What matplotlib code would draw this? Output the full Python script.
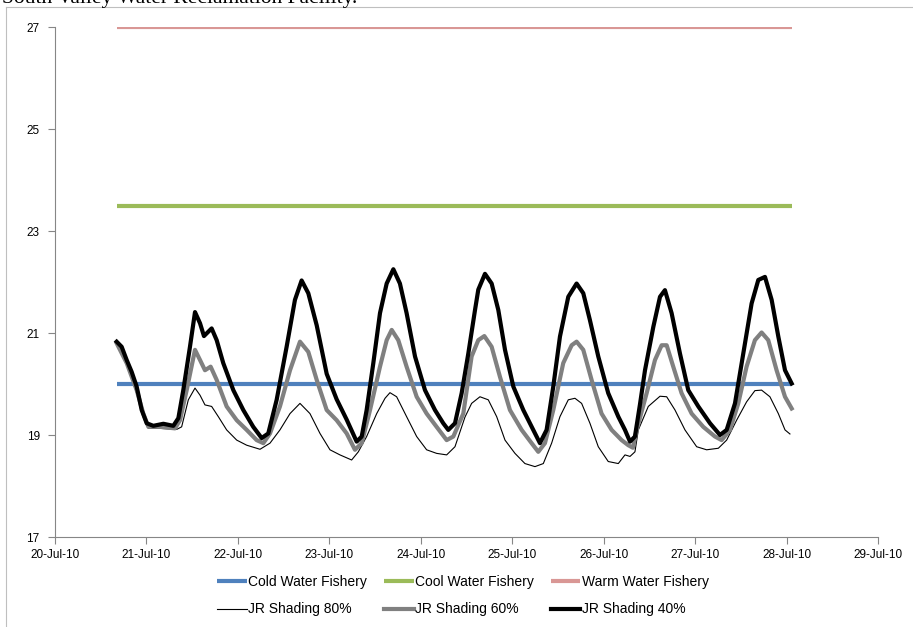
import numpy as np
import matplotlib
matplotlib.use("Agg")
import matplotlib.pyplot as plt
import matplotlib.dates as mdates
from matplotlib.lines import Line2D
from datetime import datetime

# ---------------- data ----------------
start_date = datetime(2010, 7, 20)

threshold_names = ["Cold Water Fishery", "Cool Water Fishery", "Warm Water Fishery"]
threshold_values = [20.0, 23.5, 27.0]
threshold_span = [0.674, 8.056]  # days after 20-Jul-10

# JR Shading 40% (days after 20-Jul-10, temperature)
t40 = [0.674, 0.729, 0.784, 0.838, 0.893, 0.948, 1.003, 1.075, 1.185, 1.294, 1.349, 1.403,
       1.476, 1.531, 1.586, 1.629, 1.713, 1.768, 1.840, 1.950, 2.059, 2.168, 2.260, 2.332,
       2.424, 2.533, 2.624, 2.697, 2.770, 2.862, 2.971, 3.080, 3.190, 3.299, 3.354, 3.408,
       3.481, 3.554, 3.627, 3.700, 3.772, 3.845, 3.937, 4.046, 4.155, 4.246, 4.301, 4.374,
       4.447, 4.520, 4.593, 4.629, 4.702, 4.775, 4.848, 4.921, 5.012, 5.121, 5.230, 5.303,
       5.376, 5.449, 5.522, 5.613, 5.704, 5.777, 5.850, 5.941, 6.050, 6.160, 6.233, 6.288,
       6.342, 6.397, 6.452, 6.543, 6.616, 6.670, 6.743, 6.834, 6.925, 7.035, 7.163, 7.272,
       7.345, 7.436, 7.527, 7.618, 7.691, 7.764, 7.837, 7.910, 7.983, 8.056]
v40 = [20.83, 20.73, 20.47, 20.24, 19.95, 19.49, 19.23, 19.18, 19.22, 19.18, 19.33, 19.88,
       20.73, 21.41, 21.19, 20.94, 21.09, 20.86, 20.41, 19.88, 19.49, 19.16, 18.94, 19.03,
       19.69, 20.73, 21.65, 22.03, 21.78, 21.15, 20.20, 19.70, 19.30, 18.87, 18.97, 19.49,
       20.41, 21.39, 21.97, 22.25, 21.97, 21.39, 20.54, 19.88, 19.49, 19.23, 19.10, 19.23,
       19.82, 20.60, 21.45, 21.85, 22.16, 21.97, 21.45, 20.67, 19.95, 19.49, 19.10, 18.84,
       19.10, 19.95, 20.93, 21.71, 21.97, 21.78, 21.25, 20.54, 19.82, 19.36, 19.10, 18.87,
       18.97, 19.60, 20.27, 21.12, 21.71, 21.84, 21.39, 20.60, 19.88, 19.56, 19.23, 19.00,
       19.10, 19.62, 20.60, 21.58, 22.04, 22.10, 21.65, 20.93, 20.27, 20.01]

# JR Shading 60%
t60 = [0.674, 0.784, 0.893, 0.966, 1.021, 1.148, 1.312, 1.367, 1.440, 1.531, 1.586, 1.640,
       1.702, 1.768, 1.877, 1.987, 2.096, 2.205, 2.278, 2.351, 2.460, 2.570, 2.679, 2.770,
       2.862, 2.971, 3.080, 3.190, 3.280, 3.354, 3.445, 3.554, 3.627, 3.682, 3.754, 3.845,
       3.955, 4.064, 4.173, 4.283, 4.356, 4.465, 4.556, 4.629, 4.695, 4.775, 4.866, 4.975,
       5.103, 5.212, 5.285, 5.358, 5.449, 5.558, 5.650, 5.704, 5.777, 5.868, 5.977, 6.087,
       6.196, 6.269, 6.320, 6.361, 6.470, 6.561, 6.634, 6.689, 6.761, 6.852, 6.962, 7.089,
       7.217, 7.290, 7.381, 7.472, 7.563, 7.654, 7.727, 7.800, 7.891, 7.983, 8.056]
v60 = [20.80, 20.41, 19.88, 19.42, 19.16, 19.16, 19.13, 19.29, 19.88, 20.67, 20.47, 20.27,
       20.34, 20.08, 19.56, 19.29, 19.10, 18.90, 18.84, 19.03, 19.56, 20.27, 20.83, 20.63,
       20.08, 19.49, 19.29, 19.03, 18.71, 18.84, 19.49, 20.34, 20.86, 21.06, 20.86, 20.34,
       19.75, 19.42, 19.16, 18.90, 18.97, 19.42, 20.54, 20.86, 20.94, 20.73, 20.14, 19.49,
       19.10, 18.84, 18.67, 18.84, 19.49, 20.41, 20.76, 20.83, 20.67, 20.08, 19.42, 19.10,
       18.90, 18.80, 18.75, 19.10, 19.82, 20.47, 20.76, 20.76, 20.34, 19.82, 19.42, 19.16,
       18.97, 18.90, 19.10, 19.62, 20.34, 20.86, 21.01, 20.86, 20.27, 19.75, 19.52]

# JR Shading 80%
t80 = [0.674, 0.784, 0.893, 0.966, 1.021, 1.148, 1.331, 1.385, 1.458, 1.531, 1.586, 1.640,
       1.713, 1.786, 1.877, 1.987, 2.096, 2.242, 2.351, 2.460, 2.570, 2.679, 2.788, 2.898,
       3.007, 3.116, 3.244, 3.317, 3.408, 3.518, 3.609, 3.663, 3.736, 3.845, 3.955, 4.064,
       4.173, 4.283, 4.374, 4.483, 4.556, 4.647, 4.738, 4.830, 4.921, 5.030, 5.139, 5.249,
       5.340, 5.431, 5.522, 5.613, 5.686, 5.759, 5.850, 5.941, 6.050, 6.160, 6.233, 6.288,
       6.342, 6.379, 6.488, 6.616, 6.689, 6.780, 6.889, 7.017, 7.126, 7.254, 7.345, 7.454,
       7.563, 7.654, 7.727, 7.818, 7.910, 7.983, 8.037]
v80 = [20.80, 20.41, 19.82, 19.36, 19.13, 19.13, 19.11, 19.16, 19.69, 19.92, 19.78, 19.59,
       19.56, 19.36, 19.10, 18.90, 18.80, 18.72, 18.84, 19.10, 19.42, 19.62, 19.42, 19.03,
       18.71, 18.61, 18.51, 18.67, 18.97, 19.42, 19.72, 19.83, 19.75, 19.36, 18.97, 18.71,
       18.64, 18.61, 18.77, 19.35, 19.62, 19.75, 19.69, 19.36, 18.90, 18.64, 18.44, 18.38,
       18.44, 18.84, 19.36, 19.69, 19.72, 19.62, 19.23, 18.77, 18.48, 18.44, 18.61, 18.58,
       18.67, 19.10, 19.56, 19.76, 19.75, 19.49, 19.10, 18.77, 18.71, 18.74, 18.90, 19.29,
       19.65, 19.87, 19.88, 19.75, 19.42, 19.10, 19.02]

series_names = ["JR Shading 80%", "JR Shading 60%", "JR Shading 40%"]
y_ticks = [17, 19, 21, 23, 25, 27]
title_text = "South Valley Water Reclamation Facility."

# ---------------- styles ----------------
threshold_colors = ["#4F81BD", "#9BBB59", "#D99795"]
series_colors = ["#000000", "#808080", "#000000"]
series_widths = [0.8, 3.0, 3.0]
font = ["Liberation Sans Narrow", "Liberation Sans", "DejaVu Sans"]

W, H = 913, 627
fig = plt.figure(figsize=(W / 100, H / 100), dpi=100)
ax = fig.add_axes([55 / W, (H - 537) / H, 823 / W, 510 / H])

base = mdates.date2num(start_date)

th_handles = []
for name, val, col in zip(threshold_names, threshold_values, threshold_colors):
    xs = [base + threshold_span[0], base + threshold_span[1]]
    h, = ax.plot(xs, [val, val], color=col, lw=3.0, solid_capstyle="butt", label=name)
    th_handles.append(h)

se_handles = []
for name, tt, vv, col, lw in zip(series_names, [t80, t60, t40], [v80, v60, v40],
                                  series_colors, series_widths):
    h, = ax.plot(base + np.array(tt), vv, color=col, lw=lw, label=name,
                 solid_joinstyle="round")
    se_handles.append(h)

ax.set_ylim(17, 27)
ax.set_xlim(base, base + 9)
ax.set_yticks(y_ticks)
ax.set_xticks([base + d for d in range(10)])
ax.xaxis.set_major_formatter(mdates.DateFormatter("%d-%b-%y"))

for s in ["top", "right"]:
    ax.spines[s].set_visible(False)
for s in ["left", "bottom"]:
    ax.spines[s].set_color("#868686")
    ax.spines[s].set_linewidth(0.8)
ax.tick_params(axis="both", direction="out", length=5, width=0.8, color="#868686",
               labelsize=8.5, labelcolor="#000000")
for lab in ax.get_xticklabels() + ax.get_yticklabels():
    lab.set_family(font)
ax.tick_params(axis="y", pad=6)
ax.tick_params(axis="x", pad=4)

# legend: row 1 thresholds, row 2 shading series (matplotlib fills column-wise)
order_h, order_l = [], []
for a, b in zip(th_handles, se_handles):
    order_h += [a, b]
    order_l += [a.get_label(), b.get_label()]
leg = fig.legend(order_h, order_l, ncol=3, frameon=False,
                 prop={"family": font, "size": 10},
                 handlelength=2.15, handletextpad=0.1, columnspacing=1.2,
                 labelspacing=1.0, loc="center left", borderaxespad=0, borderpad=0,
                 bbox_to_anchor=(217 / W, 1 - 595.5 / H))

# chart-area border (left and top edges visible)
fig.add_artist(Line2D([6 / W, 6 / W], [0, 1 - 7 / H], color="#BFBFBF", lw=0.8))
fig.add_artist(Line2D([6 / W, 1], [1 - 7 / H, 1 - 7 / H], color="#BFBFBF", lw=0.8))

# title line of the surrounding document, cut by the top edge as in the source image
fig.text(2 / W, 1 - 3 / H, title_text, family=["Liberation Serif", "DejaVu Serif"],
         fontsize=15.5, va="baseline", ha="left")

fig.savefig("out.png", dpi=100)
